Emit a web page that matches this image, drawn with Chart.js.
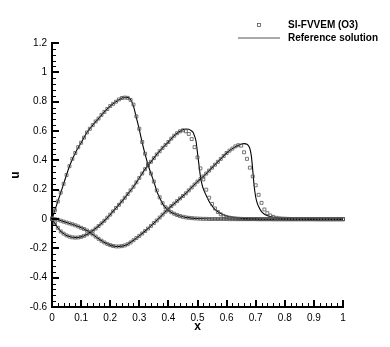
<!DOCTYPE html>
<html>
<head>
<meta charset="utf-8">
<script src="https://cdn.jsdelivr.net/npm/chart.js@4/dist/chart.umd.min.js"></script>
<style>
  html, body { margin: 0; padding: 0; background: #fff; }
</style>
</head>
<body>
<canvas id="plot" width="390" height="347"></canvas>
<script>
// tick labels
const xTicks = [0, 0.1, 0.2, 0.3, 0.4, 0.5, 0.6, 0.7, 0.8, 0.9, 1];
const yTicks = [-0.6, -0.4, -0.2, 0, 0.2, 0.4, 0.6, 0.8, 1, 1.2];

// SI-FVVEM (O3) cell values, one per x below
const xs = [0, 0.01, 0.02, 0.03, 0.04, 0.05, 0.06, 0.07, 0.08, 0.09,
  0.1, 0.11, 0.12, 0.13, 0.14, 0.15, 0.16, 0.17, 0.18, 0.19,
  0.2, 0.21, 0.22, 0.23, 0.24, 0.25, 0.26, 0.27, 0.28, 0.29,
  0.3, 0.31, 0.32, 0.33, 0.34, 0.35, 0.36, 0.37, 0.38, 0.39,
  0.4, 0.41, 0.42, 0.43, 0.44, 0.45, 0.46, 0.47, 0.48, 0.49,
  0.5, 0.51, 0.52, 0.53, 0.54, 0.55, 0.56, 0.57, 0.58, 0.59,
  0.6, 0.61, 0.62, 0.63, 0.64, 0.65, 0.66, 0.67, 0.68, 0.69,
  0.7, 0.71, 0.72, 0.73, 0.74, 0.75, 0.76, 0.77, 0.78, 0.79,
  0.8, 0.81, 0.82, 0.83, 0.84, 0.85, 0.86, 0.87, 0.88, 0.89,
  0.9, 0.91, 0.92, 0.93, 0.94, 0.95, 0.96, 0.97, 0.98, 0.99, 1];

const sqA = [0, 0.06, 0.12, 0.18, 0.24, 0.30, 0.36, 0.41, 0.45, 0.49,
  0.52, 0.555, 0.59, 0.615, 0.64, 0.665, 0.685, 0.71, 0.73, 0.75,
  0.77, 0.785, 0.80, 0.815, 0.825, 0.828, 0.826, 0.812, 0.78, 0.70,
  0.615, 0.525, 0.445, 0.375, 0.31, 0.255, 0.195, 0.148, 0.108, 0.08,
  0.06, 0.046, 0.036, 0.027, 0.02, 0.015, 0.011, 0.008, 0.006, 0.004,
  0.003, 0.002, 0.001, 0.001, 0, 0, 0, 0, 0, 0,
  0, -0.001, -0.001, -0.001, -0.001, -0.001, -0.001, -0.001, -0.001, -0.001,
  -0.001, -0.002, -0.002, -0.002, -0.002, -0.002, -0.002, -0.002, -0.002, -0.002,
  -0.002, -0.002, -0.002, -0.002, -0.002, -0.002, -0.002, -0.002, -0.002, -0.002,
  -0.002, -0.002, -0.002, -0.002, -0.002, -0.002, -0.002, -0.002, -0.002, -0.002, -0.002];

const sqB = [0, -0.03, -0.06, -0.085, -0.10, -0.112, -0.12, -0.125, -0.127, -0.126,
  -0.122, -0.115, -0.105, -0.093, -0.08, -0.065, -0.048, -0.03, -0.012, 0.009,
  0.03, 0.052, 0.075, 0.097, 0.12, 0.145, 0.17, 0.195, 0.22, 0.25,
  0.28, 0.31, 0.34, 0.365, 0.39, 0.415, 0.44, 0.462, 0.485, 0.505,
  0.525, 0.548, 0.568, 0.585, 0.598, 0.605, 0.598, 0.58, 0.545, 0.49,
  0.42, 0.345, 0.27, 0.20, 0.145, 0.103, 0.072, 0.048, 0.032, 0.021,
  0.014, 0.009, 0.006, 0.004, 0.002, 0.001, 0, 0, 0, 0,
  0, 0, 0, 0, 0, 0, -0.001, -0.001, -0.001, -0.001,
  -0.001, -0.001, -0.001, -0.001, -0.001, -0.001, -0.001, -0.001, -0.001, -0.001,
  -0.001, -0.001, -0.001, -0.001, -0.001, -0.001, -0.001, -0.001, -0.001, -0.001, -0.001];

const sqC = [0.005, 0, -0.005, -0.011, -0.018, -0.024, -0.03, -0.036, -0.043, -0.051,
  -0.06, -0.068, -0.078, -0.09, -0.105, -0.12, -0.135, -0.148, -0.16, -0.17,
  -0.178, -0.184, -0.187, -0.187, -0.185, -0.18, -0.172, -0.16, -0.145, -0.13,
  -0.115, -0.099, -0.082, -0.065, -0.047, -0.028, -0.01, 0.01, 0.03, 0.05,
  0.07, 0.088, 0.105, 0.122, 0.14, 0.157, 0.175, 0.195, 0.215, 0.235,
  0.255, 0.272, 0.29, 0.31, 0.33, 0.35, 0.37, 0.39, 0.41, 0.43,
  0.45, 0.466, 0.48, 0.495, 0.503, 0.50, 0.455, 0.41, 0.35, 0.29,
  0.23, 0.165, 0.11, 0.065, 0.04, 0.024, 0.014, 0.008, 0.005, 0.003,
  0.002, 0.001, 0, 0, 0, 0, 0, 0, 0, 0,
  0, -0.001, -0.001, -0.001, -0.001, -0.001, -0.001, -0.001, -0.001, -0.001, -0.001];

// reference solution curves
const refAx = [0, 0.02, 0.04, 0.06, 0.08, 0.10, 0.12, 0.14, 0.16, 0.18, 0.20, 0.22, 0.24, 0.25, 0.26, 0.27,
  0.28, 0.29, 0.30, 0.31, 0.32, 0.33, 0.34, 0.35, 0.36, 0.37, 0.38, 0.39, 0.40, 0.42, 0.44,
  0.46, 0.48, 0.50, 0.55, 0.60, 0.70, 0.80, 0.90, 1.00];
const refAu = [0, 0.12, 0.24, 0.36, 0.45, 0.52, 0.59, 0.64, 0.685, 0.73, 0.77, 0.80, 0.825, 0.83, 0.828, 0.815,
  0.77, 0.69, 0.61, 0.52, 0.44, 0.37, 0.31, 0.255, 0.19, 0.145, 0.105, 0.078, 0.058, 0.035, 0.02,
  0.011, 0.006, 0.003, 0, 0, -0.001, -0.002, -0.002, -0.002];

const refBx = [0, 0.01, 0.02, 0.03, 0.04, 0.05, 0.06, 0.07, 0.08, 0.09, 0.10, 0.12, 0.14, 0.16, 0.18,
  0.20, 0.22, 0.24, 0.26, 0.28, 0.30, 0.32, 0.34, 0.36, 0.38, 0.40, 0.42, 0.44, 0.45, 0.46,
  0.47, 0.48, 0.485, 0.49, 0.495, 0.50, 0.505, 0.51, 0.515, 0.52, 0.53, 0.54, 0.55, 0.56, 0.58,
  0.60, 0.62, 0.65, 0.70, 0.80, 0.90, 1.00];
const refBu = [0, -0.03, -0.06, -0.085, -0.10, -0.112, -0.12, -0.125, -0.127, -0.126, -0.122, -0.105, -0.08, -0.048, -0.012,
  0.03, 0.075, 0.12, 0.17, 0.22, 0.28, 0.34, 0.39, 0.44, 0.485, 0.525, 0.568, 0.598, 0.608, 0.614,
  0.612, 0.60, 0.59, 0.565, 0.53, 0.45, 0.37, 0.29, 0.24, 0.205, 0.16, 0.12, 0.09, 0.066, 0.037,
  0.021, 0.012, 0.005, 0.001, -0.001, -0.001, -0.001];

const refCx = [0, 0.02, 0.04, 0.06, 0.08, 0.10, 0.12, 0.14, 0.16, 0.18, 0.20, 0.22, 0.24, 0.26, 0.28,
  0.30, 0.32, 0.34, 0.36, 0.38, 0.40, 0.42, 0.44, 0.46, 0.48, 0.50, 0.52, 0.54, 0.56, 0.58,
  0.60, 0.62, 0.64, 0.65, 0.66, 0.67, 0.675, 0.68, 0.685, 0.69, 0.695, 0.70, 0.705, 0.71, 0.72,
  0.73, 0.75, 0.78, 0.82, 0.90, 1.00];
const refCu = [0.005, -0.005, -0.018, -0.03, -0.043, -0.06, -0.078, -0.105, -0.135, -0.16, -0.178, -0.187, -0.185, -0.172, -0.145,
  -0.115, -0.082, -0.047, -0.01, 0.03, 0.07, 0.105, 0.14, 0.175, 0.215, 0.255, 0.29, 0.33, 0.37, 0.41,
  0.45, 0.48, 0.503, 0.51, 0.514, 0.51, 0.50, 0.48, 0.43, 0.33, 0.22, 0.15, 0.11, 0.085, 0.05,
  0.033, 0.017, 0.007, 0.002, 0, -0.001];

const FONT = '"Liberation Sans", Arial, Helvetica, sans-serif';

function pts(xArr, yArr) {
  return xArr.map((x, i) => ({ x, y: yArr[i] }));
}

function squares(yArr) {
  return {
    data: pts(xs, yArr),
    showLine: false,
    pointStyle: 'rect',
    pointRadius: 2.1,
    borderWidth: 0.8,
    borderColor: '#555',
    backgroundColor: 'rgba(0,0,0,0)',
    clip: 6
  };
}

function refLine(xArr, yArr) {
  return {
    data: pts(xArr, yArr),
    showLine: true,
    pointRadius: 0,
    borderWidth: 1.1,
    borderColor: '#000',
    cubicInterpolationMode: 'monotone',
    clip: 4
  };
}

function fmt(v) {
  return String(Math.round(v * 10) / 10);
}

// inward major/minor ticks, axis titles and the legend
const decor = {
  id: 'decor',
  afterDraw(chart) {
    const { ctx, chartArea: a } = chart;
    const sx = chart.scales.x, sy = chart.scales.y;
    ctx.save();
    ctx.strokeStyle = '#000';

    ctx.lineWidth = 1;
    ctx.beginPath();
    for (let i = 0; i <= 45; i++) {
      if (i % 5 === 0) continue;
      const py = Math.round(sy.getPixelForValue(-0.6 + i * 0.04)) + 0.5;
      ctx.moveTo(a.left, py); ctx.lineTo(a.left + 4, py);
    }
    for (let i = 0; i <= 50; i++) {
      if (i % 5 === 0) continue;
      const px = Math.round(sx.getPixelForValue(i * 0.02)) + 0.5;
      ctx.moveTo(px, a.bottom); ctx.lineTo(px, a.bottom - 4);
    }
    ctx.stroke();

    ctx.lineWidth = 2;
    ctx.beginPath();
    yTicks.forEach(v => {
      const py = Math.round(sy.getPixelForValue(v));
      ctx.moveTo(a.left, py); ctx.lineTo(a.left + 7, py);
    });
    xTicks.forEach(v => {
      const px = Math.round(sx.getPixelForValue(v));
      ctx.moveTo(px, a.bottom); ctx.lineTo(px, a.bottom - 7);
    });
    ctx.stroke();

    ctx.fillStyle = '#000';
    ctx.font = 'bold 12px ' + FONT;
    ctx.textAlign = 'center';
    ctx.textBaseline = 'middle';
    ctx.fillText('x', sx.getPixelForValue(0.5), 327);
    ctx.save();
    ctx.translate(16, 175);
    ctx.rotate(-Math.PI / 2);
    ctx.fillText('u', 0, 0);
    ctx.restore();

    // legend
    ctx.lineWidth = 0.8;
    ctx.strokeStyle = '#555';
    ctx.strokeRect(257.5, 23.5, 3, 3);
    ctx.lineWidth = 1;
    ctx.strokeStyle = '#555';
    ctx.beginPath();
    ctx.moveTo(238, 38); ctx.lineTo(280, 38);
    ctx.stroke();
    ctx.font = 'bold 10px ' + FONT;
    ctx.textAlign = 'left';
    ctx.fillText('SI-FVVEM (O3)', 288, 25);
    ctx.fillText('Reference solution', 288, 38);
    ctx.restore();
  }
};

new Chart(document.getElementById('plot'), {
  type: 'scatter',
  data: {
    datasets: [
      squares(sqA), squares(sqB), squares(sqC),
      refLine(refAx, refAu), refLine(refBx, refBu), refLine(refCx, refCu)
    ]
  },
  options: {
    responsive: false,
    animation: false,
    devicePixelRatio: 1,
    layout: { padding: { top: 43, right: 47, left: 0, bottom: 0 } },
    plugins: { legend: { display: false }, tooltip: { enabled: false } },
    scales: {
      x: {
        type: 'linear', min: 0, max: 1,
        afterBuildTicks: s => { s.ticks = xTicks.map(v => ({ value: v })); },
        afterFit: s => { s.height = 40; },
        grid: { display: false, drawTicks: false },
        border: { display: true, color: '#000', width: 2 },
        ticks: { callback: fmt, color: '#000', padding: 5, maxRotation: 0, autoSkip: false,
                 font: { family: FONT, size: 10 } }
      },
      y: {
        type: 'linear', min: -0.6, max: 1.2,
        afterBuildTicks: s => { s.ticks = yTicks.map(v => ({ value: v })); },
        afterFit: s => { s.width = 52; },
        grid: { display: false, drawTicks: false },
        border: { display: true, color: '#000', width: 2 },
        ticks: { callback: fmt, color: '#000', padding: 5, autoSkip: false,
                 font: { family: FONT, size: 10 } }
      }
    }
  },
  plugins: [decor]
});
</script>
</body>
</html>
